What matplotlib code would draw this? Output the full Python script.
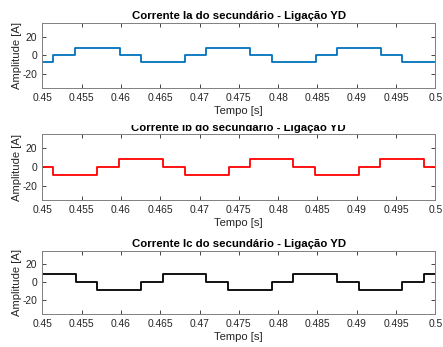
import matplotlib
matplotlib.use("Agg")
import matplotlib.pyplot as plt
from matplotlib.transforms import Bbox, TransformedBbox

plt.rcParams['font.family'] = ['Liberation Sans', 'DejaVu Sans']
plt.rcParams['axes.unicode_minus'] = False

# Switching instants [s] and the current level [A] that holds from each instant on
t_ia = [0.4500, 0.4514, 0.4542, 0.4599, 0.4626, 0.4681, 0.4708, 0.4764,
        0.4792, 0.4848, 0.4875, 0.4931, 0.4958, 0.5000]
i_ia = [-7.5, 0, 8.2, 0, -7.5, 0, 8.2, 0, -7.5, 0, 8.2, 0, -7.5, -7.5]

t_ib = [0.4500, 0.4514, 0.4570, 0.4598, 0.4654, 0.4681, 0.4737, 0.4764,
        0.4819, 0.4847, 0.4903, 0.4930, 0.4986, 0.5000]
i_ib = [0, -8.5, 0, 8.5, 0, -8.5, 0, 8.5, 0, -8.5, 0, 8.5, 0, 0]

t_ic = [0.4500, 0.4543, 0.4570, 0.4625, 0.4653, 0.4708, 0.4736, 0.4792,
        0.4819, 0.4875, 0.4903, 0.4958, 0.4985, 0.5000]
i_ic = [8.7, 0, -8.7, 0, 8.7, 0, -8.7, 0, 8.7, 0, -8.7, 0, 8.7, 8.7]

titles = ['Corrente Ia do secundário - Ligação YD',
          'Corrente Ib do secundário - Ligação YD',
          'Corrente Ic do secundário - Ligação YD']
colors = ['#0072BD', '#FF0000', '#000000']
xticks = [0.45, 0.455, 0.46, 0.465, 0.47, 0.475, 0.48, 0.485, 0.49, 0.495, 0.5]
xticklabels = ['0.45', '0.455', '0.46', '0.465', '0.47', '0.475', '0.48',
               '0.485', '0.49', '0.495', '0.5']
yticks = [-20, 0, 20]

W, H = 443, 347
fig = plt.figure(figsize=(W / 100, H / 100), dpi=100)

# axes boxes in pixels: left, top, right, bottom
boxes = [(42.3, 22.7, 435.3, 87.7),
         (42.3, 134.3, 435.3, 200.0),
         (42.3, 250.7, 435.3, 313.8)]

series = [(t_ia, i_ia), (t_ib, i_ib), (t_ic, i_ic)]
grey = '#262626'

for k, ((l, t, r, b), (tt, ii)) in enumerate(zip(boxes, series)):
    ax = fig.add_axes([l / W, 1 - b / H, (r - l) / W, (b - t) / H])
    ax.step(tt, ii, where='post', color=colors[k], lw=1.3)
    ax.set_xlim(0.45, 0.5)
    ax.set_ylim(-35, 35)
    ax.set_xticks(xticks)
    ax.set_xticklabels(xticklabels)
    ax.set_yticks(yticks)
    ax.tick_params(direction='in', length=3, width=0.6, top=True, right=True,
                   labelsize=7.4, colors=grey, pad=3.5)
    for s in ax.spines.values():
        s.set_color('#808080')
        s.set_linewidth(0.7)
    ax.set_xlabel('Tempo [s]', fontsize=8.1, color=grey)
    ax.set_ylabel('Amplitude [A]', fontsize=8.1, color=grey)
    ax.xaxis.set_label_coords(0.5, -18.5 / (b - t))
    ax.yaxis.set_label_coords(-(42.3 - 21.5) / (r - l), 0.5)
    ttl = ax.set_title(titles[k], fontsize=8.2, fontweight='bold', pad=2.5)
    if k == 1:
        # the upper part of this title is hidden under the label above it
        clip = TransformedBbox(Bbox([[0, 0], [1, 1 - 124.5 / H]]), fig.transFigure)
        ttl.set_clip_box(clip)
        ttl.set_clip_on(True)

fig.savefig('out.png', dpi=100, facecolor='white')
